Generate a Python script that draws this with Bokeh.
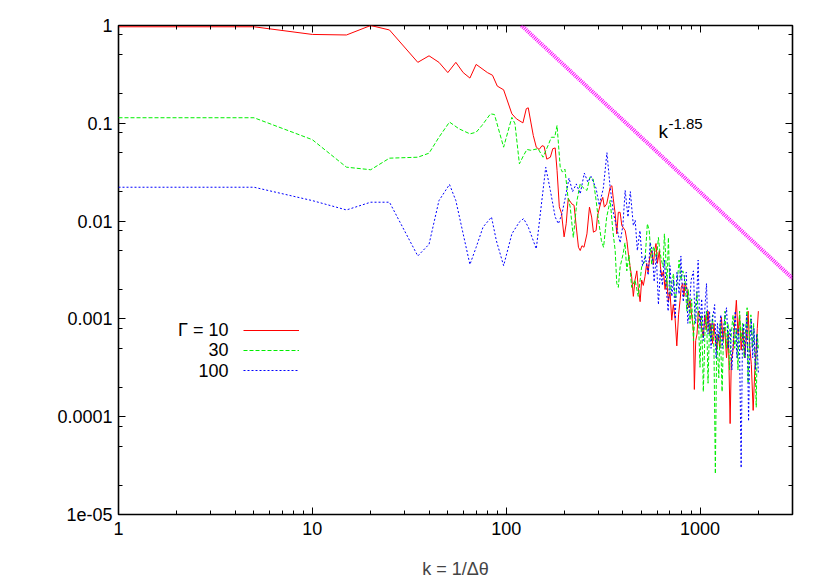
from bokeh.plotting import figure
from bokeh.models import (FixedTicker, LogAxis, Label, Legend, LegendItem, Range1d)
from bokeh.embed import file_html
from bokeh.resources import INLINE

FONT = "Liberation Sans"

# ---- data: Gamma = 10 (red) ----
k_red = [1, 5, 10, 15, 20, 25, 35, 40, 45, 50, 55, 60, 65, 70, 80, 85, 90, 97, 107, 113,
         122, 127, 130, 134, 138, 143, 148, 153, 157, 162, 169, 174, 179, 183, 188, 193, 199, 204, 209, 218,
         224, 230, 236, 241, 246, 252, 261, 269, 276, 282, 291, 296, 308, 315, 321, 330, 344, 351, 357, 365,
         372, 379, 387, 395, 411, 420, 427, 435, 444, 453, 462, 472, 480, 491, 500, 510, 520, 531, 540, 550,
         563, 575, 585, 593, 603, 617, 625, 635, 648, 660, 672, 687, 700, 715, 728, 743, 759, 775, 789, 800,
         814, 826, 837, 858, 870, 888, 905, 925, 935, 950, 965, 980, 1000, 1020, 1040, 1060, 1080, 1100, 1120, 1140,
         1160, 1180, 1200, 1220, 1240, 1265, 1290, 1315, 1340, 1370, 1400, 1430, 1450, 1480, 1510, 1540, 1570, 1600, 1630, 1665,
         1700, 1740, 1770, 1800, 1840, 1880, 1920, 1950, 1975, 2000]
y_red = [0.97, 0.97, 0.81, 0.80, 1.0, 0.90, 0.42, 0.49, 0.42, 0.33, 0.42, 0.33, 0.29, 0.40, 0.33, 0.31, 0.24, 0.22, 0.125, 0.111,
         0.101, 0.141, 0.144, 0.103, 0.075, 0.057, 0.054, 0.059, 0.058, 0.043, 0.045, 0.055, 0.056, 0.033, 0.014, 0.012, 0.0069, 0.0094, 0.017, 0.015,
         0.0145, 0.0087, 0.0054, 0.0050, 0.0056, 0.0054, 0.0074, 0.0139, 0.011, 0.0077, 0.0080, 0.0114, 0.0156, 0.0175, 0.0139, 0.0150, 0.0222, 0.023, 0.0169, 0.0119,
         0.0074, 0.0123, 0.0123, 0.0090, 0.0080, 0.0062, 0.0046, 0.0035, 0.0027, 0.0017, 0.0025, 0.0031, 0.0021, 0.0015, 0.0025, 0.0022, 0.0027, 0.0037, 0.0030, 0.0042,
         0.0050, 0.0036, 0.0052, 0.0059, 0.0037, 0.0050, 0.0034, 0.0027, 0.0031, 0.0020, 0.0026, 0.0015, 0.0019, 0.00097, 0.0014, 0.00104, 0.00053, 0.0011, 0.00155, 0.0021,
         0.0023, 0.0017, 0.0023, 0.0020, 0.0013, 0.00155, 0.0011, 0.00078, 0.00019, 0.0006, 0.00070, 0.0012, 0.00104, 0.0008, 0.00065, 0.0011, 0.00078, 0.0012, 0.0007, 0.00090,
         0.00056, 0.0009, 0.0006, 0.00048, 0.00070, 0.0005, 0.00104, 0.0006, 0.00082, 0.00040, 0.0007, 0.000085, 0.00037, 0.00048, 0.0009, 0.00155, 0.0007, 0.0011, 0.00048, 0.0008,
         0.0004, 0.0007, 0.0012, 0.00056, 0.00034, 0.000116, 0.00032, 0.00048, 0.0008, 0.0012]

# ---- data: Gamma = 30 (green) ----
k_green = [1, 5, 10, 15, 20, 25, 35, 40, 45, 51, 57, 65, 70, 75, 83, 87, 97, 107, 111, 117,
           123, 128, 134, 146, 155, 166, 171, 178, 183, 190, 195, 201, 208, 214, 222, 232, 241, 249, 261, 270,
           281, 291, 298, 310, 318, 330, 344, 355, 365, 372, 379, 387, 401, 410, 419, 430, 444, 462, 480, 500,
           520, 535, 547, 563, 575, 585, 597, 610, 620, 632, 645, 655, 665, 675, 687, 700, 715, 730, 745, 760,
           780, 797, 815, 837, 855, 870, 888, 905, 925, 945, 965, 985, 1000, 1020, 1040, 1060, 1080, 1100, 1120, 1140,
           1160, 1180, 1200, 1220, 1250, 1270, 1300, 1320, 1345, 1370, 1395, 1420, 1450, 1480, 1510, 1540, 1570, 1600, 1630, 1660,
           1690, 1720, 1750, 1770, 1800, 1830, 1860, 1890, 1920, 1950, 1975, 2000]
y_green = [0.114, 0.114, 0.068, 0.0356, 0.0335, 0.044, 0.045, 0.0495, 0.072, 0.103, 0.088, 0.078, 0.081, 0.095, 0.125, 0.123, 0.057, 0.115, 0.099, 0.0385,
           0.047, 0.054, 0.053, 0.055, 0.045, 0.062, 0.072, 0.072, 0.095, 0.0355, 0.0317, 0.034, 0.018, 0.0139, 0.0068, 0.0163, 0.024, 0.022, 0.0206, 0.028,
           0.027, 0.0163, 0.011, 0.0063, 0.0054, 0.011, 0.0163, 0.008, 0.005, 0.0023, 0.0021, 0.0034, 0.0046, 0.0060, 0.0031, 0.0045, 0.0021, 0.0025, 0.0017, 0.0034,
           0.0039, 0.0094, 0.008, 0.0036, 0.0055, 0.005, 0.0042, 0.0068, 0.005, 0.0040, 0.0034, 0.0074, 0.0045, 0.0021, 0.0068, 0.0018, 0.0024, 0.0029, 0.0015, 0.0022,
           0.0040, 0.0025, 0.0031, 0.0025, 0.0012, 0.0020, 0.0009, 0.0016, 0.0006, 0.0013, 0.0019, 0.0008, 0.00032, 0.0011, 0.00018, 0.0007, 0.0012, 0.00022, 0.0009, 0.0006,
           0.0011, 0.0005, 0.000026, 0.0007, 0.00025, 0.0009, 0.00018, 0.0006, 0.0012, 0.0005, 0.0009, 0.0003, 0.0007, 0.0011, 0.0005, 0.0008, 0.0003, 0.0012, 0.0006, 0.0009,
           0.0004, 0.0008, 0.0013, 0.00022, 0.0007, 0.0011, 0.0005, 0.0009, 0.0004, 0.000125, 0.0007, 0.0005]

# ---- data: Gamma = 100 (blue) ----
k_blue = [1, 5, 10, 15, 20, 25, 35, 40, 45, 51, 55, 60, 65, 70, 76, 84, 89, 97, 107, 117,
          123, 130, 143, 150, 160, 169, 179, 186, 194, 202, 211, 220, 230, 241, 253, 264, 274, 291, 302, 317,
          331, 343, 357, 372, 387, 400, 411, 425, 437, 453, 463, 475, 490, 505, 522, 540, 553, 566, 580, 595,
          610, 625, 640, 655, 670, 685, 700, 715, 730, 745, 760, 780, 797, 810, 820, 835, 850, 865, 880, 900,
          925, 940, 950, 965, 978, 990, 1000, 1020, 1040, 1060, 1080, 1100, 1120, 1140, 1160, 1190, 1210, 1230, 1250, 1280,
          1300, 1330, 1370, 1400, 1430, 1460, 1490, 1520, 1550, 1575, 1600, 1630, 1655, 1680, 1710, 1740, 1760, 1780, 1810, 1840,
          1870, 1900, 1930, 1960, 1985, 2000]
y_blue = [0.0222, 0.0222, 0.0162, 0.013, 0.0156, 0.0156, 0.0044, 0.0058, 0.0162, 0.0237, 0.0162, 0.0074, 0.0036, 0.0054, 0.0087, 0.011, 0.0063, 0.0035, 0.0074, 0.0098,
          0.0106, 0.0087, 0.0052, 0.0119, 0.0355, 0.0206, 0.011, 0.0094, 0.0119, 0.0175, 0.0275, 0.020, 0.024, 0.019, 0.031, 0.025, 0.0286, 0.0216, 0.0145, 0.0216,
          0.050, 0.0233, 0.0123, 0.0085, 0.0060, 0.009, 0.0206, 0.011, 0.020, 0.009, 0.0102, 0.005, 0.008, 0.0035, 0.0044, 0.0028, 0.006, 0.0051, 0.0024, 0.0045,
          0.0014, 0.0032, 0.0022, 0.0040, 0.0020, 0.0012, 0.0035, 0.0017, 0.0025, 0.0010, 0.0030, 0.0018, 0.0044, 0.0020, 0.0015, 0.0028, 0.0030, 0.0009, 0.0012, 0.0025,
          0.0031, 0.0011, 0.0009, 0.0020, 0.0040, 0.0014, 0.0008, 0.0016, 0.0006, 0.0013, 0.0023, 0.0007, 0.0012, 0.0005, 0.0010, 0.0014, 0.0004, 0.0009, 0.0006, 0.0011,
          0.0005, 0.0009, 0.0013, 0.0005, 0.0008, 0.0003, 0.0007, 0.0012, 0.0004, 0.0008, 0.0005, 0.00003, 0.0006, 0.0009, 0.0004, 0.0011, 0.0005, 0.00009, 0.0006, 0.0010,
          0.0004, 0.0008, 0.0003, 0.0007, 0.0004, 0.00028]

# ---- power-law guide k^-1.85 (end points) ----
k_fit = [120, 3000]
y_fit = [1.0, 0.0026]

# ---- ticks ----
x_major = [1, 10, 100, 1000]
x_minor = [2, 3, 4, 5, 6, 7, 8, 9, 20, 30, 40, 50, 60, 70, 80, 90,
           200, 300, 400, 500, 600, 700, 800, 900, 2000, 3000]
x_labels = ["1", "10", "100", "1000"]
y_major = [1e-5, 1e-4, 1e-3, 1e-2, 1e-1, 1.0]
y_minor = [2e-5, 5e-5, 8e-5, 2e-4, 5e-4, 8e-4, 2e-3, 5e-3, 8e-3,
           2e-2, 5e-2, 8e-2, 0.2, 0.5, 0.8]
y_labels = ["1e-05", "0.0001", "0.001", "0.01", "0.1", "1"]

legend_labels = ["\u0393 = 10", "30", "100"]

FS = "18px"

p = figure(frame_width=674, frame_height=489,
           x_axis_type="log", y_axis_type="log",
           x_range=Range1d(1, 3000), y_range=Range1d(1e-5, 1),
           output_backend="svg", toolbar_location=None,
           min_border_left=118, min_border_right=28,
           min_border_top=25, min_border_bottom=40)
p.xgrid.visible = False
p.ygrid.visible = False
p.outline_line_color = "black"
p.outline_line_width = 1.6
p.background_fill_color = "white"
p.border_fill_color = "white"


def style_axis(ax, major, minor, labels=None):
    ax.ticker = FixedTicker(ticks=major, minor_ticks=minor)
    ax.axis_line_color = None
    ax.major_tick_in = 7
    ax.major_tick_out = 0
    ax.minor_tick_in = 4
    ax.minor_tick_out = 0
    ax.major_tick_line_color = "black"
    ax.minor_tick_line_color = "black"
    ax.major_label_text_font = FONT
    ax.major_label_text_font_size = FS
    ax.major_label_text_color = "black"
    if labels is None:
        ax.major_label_overrides = {t: "" for t in major}
    else:
        ax.major_label_overrides = {t: s for t, s in zip(major, labels)}


style_axis(p.xaxis[0], x_major, x_minor, x_labels)
style_axis(p.yaxis[0], y_major, y_minor, y_labels)
p.xaxis[0].major_label_standoff = 7
p.yaxis[0].major_label_standoff = 6
p.xaxis[0].axis_label = "k = 1/\u0394\u03b8"
p.xaxis[0].axis_label_text_font = FONT
p.xaxis[0].axis_label_text_font_size = FS
p.xaxis[0].axis_label_text_font_style = "normal"
p.xaxis[0].axis_label_standoff = 21

top_ax = LogAxis()
style_axis(top_ax, x_major, x_minor)
top_ax.major_label_standoff = 0
p.add_layout(top_ax, "above")
right_ax = LogAxis()
style_axis(right_ax, y_major, y_minor)
right_ax.major_label_standoff = 0
p.add_layout(right_ax, "right")

r_red = p.line(k_red, y_red, line_color="#ff0000", line_width=1)
r_green = p.line(k_green, y_green, line_color="#00ee00", line_width=1, line_dash="4 2")
r_blue = p.line(k_blue, y_blue, line_color="#0000ff", line_width=1, line_dash="2 2")
p.line(k_fit, y_fit, line_color="#ff00ff", line_width=4, line_dash="1 1")

legend = Legend(items=[LegendItem(label=" ", renderers=[r]) for r in (r_red, r_green, r_blue)],
                location=(125, 134), glyph_width=56, glyph_height=20,
                label_width=0, label_height=20, spacing=0, padding=0, margin=0,
                label_standoff=0, border_line_alpha=0, background_fill_alpha=0,
                label_text_font_size="1px")
p.add_layout(legend)

for txt, yy in zip(legend_labels, [185, 165, 144]):
    p.add_layout(Label(x=110, y=yy, x_units="screen", y_units="screen", text=txt,
                       text_align="right", text_baseline="middle",
                       text_font=FONT, text_font_size=FS, text_color="black"))

p.add_layout(Label(x=540, y=383, x_units="screen", y_units="screen", text="k",
                   text_align="left", text_baseline="alphabetic",
                   text_font=FONT, text_font_size="19px", text_color="black"))
p.add_layout(Label(x=550, y=391, x_units="screen", y_units="screen", text="-1.85",
                   text_align="left", text_baseline="alphabetic",
                   text_font=FONT, text_font_size="15px", text_color="black"))

open("out.html", "w").write(file_html(p, INLINE))
